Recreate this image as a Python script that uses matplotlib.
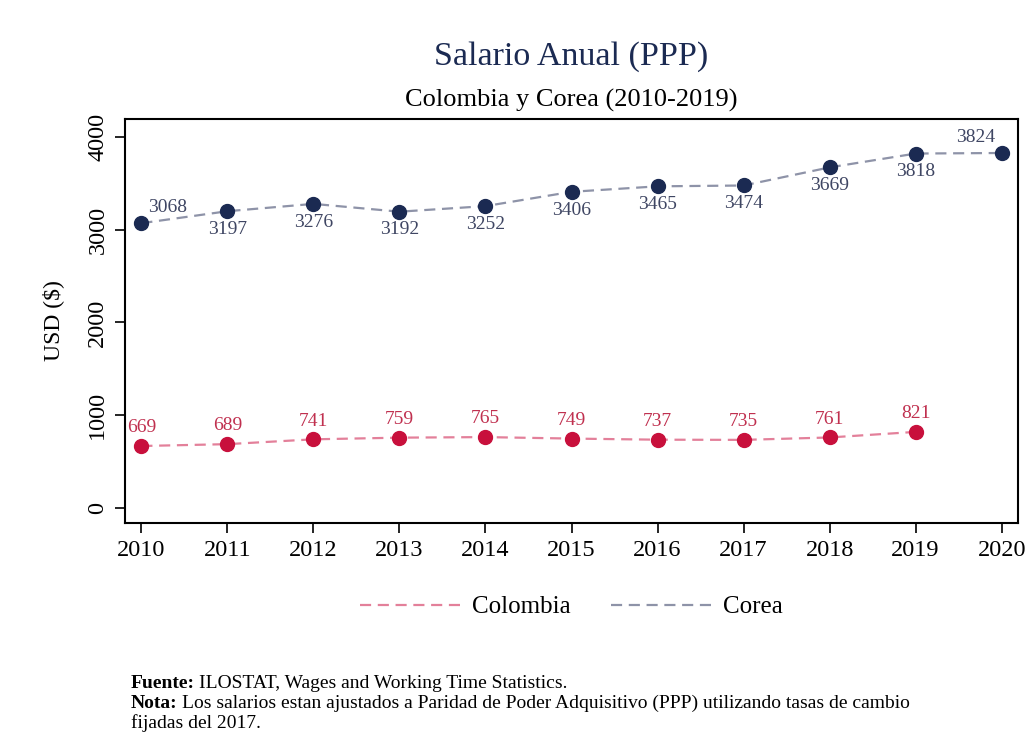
import matplotlib
matplotlib.use("Agg")
import matplotlib.pyplot as plt
from matplotlib.lines import Line2D

plt.rcParams['font.family'] = ['Liberation Serif', 'DejaVu Serif']

years_col = [2010, 2011, 2012, 2013, 2014, 2015, 2016, 2017, 2018, 2019]
colombia = [669, 689, 741, 759, 765, 749, 737, 735, 761, 821]
years_kor = [2010, 2011, 2012, 2013, 2014, 2015, 2016, 2017, 2018, 2019, 2020]
corea = [3068, 3197, 3276, 3192, 3252, 3406, 3465, 3474, 3669, 3818, 3824]
xticks = list(range(2010, 2021))
yticks = [0, 1000, 2000, 3000, 4000]

W, H = 1035, 756
fig = plt.figure(figsize=(W/100, H/100), dpi=100)
ax = fig.add_axes([125/W, 1-523/H, (1018-125)/W, (523-119)/H])

col_mk = '#c8103c'
col_ln = '#e3809a'
kor_mk = '#1b2a52'
kor_ln = '#8e93a8'

ax.plot(years_col, colombia, linestyle=(0, (5, 3)), color=col_ln, lw=1.6, zorder=2)
ax.plot(years_col, colombia, 'o', color=col_mk, ms=10, zorder=3)
ax.plot(years_kor, corea, linestyle=(0, (5, 3)), color=kor_ln, lw=1.6, zorder=2)
ax.plot(years_kor, corea, 'o', color=kor_mk, ms=10, zorder=3)

lab_fs = 14
for x, y in zip(years_col, colombia):
    ax.annotate(str(y), (x, y), xytext=(0, 7), textcoords='offset points',
                ha='center', va='bottom', fontsize=lab_fs, color='#c0304f')
n = len(corea)
for i, (x, y) in enumerate(zip(years_kor, corea)):
    if i == 0:
        ax.annotate(str(y), (x, y), xytext=(5, 5), textcoords='offset points',
                    ha='left', va='bottom', fontsize=lab_fs, color='#3f4663')
    elif i == n - 1:
        ax.annotate(str(y), (x, y), xytext=(-5, 5), textcoords='offset points',
                    ha='right', va='bottom', fontsize=lab_fs, color='#3f4663')
    else:
        ax.annotate(str(y), (x, y), xytext=(0, -7), textcoords='offset points',
                    ha='center', va='top', fontsize=lab_fs, color='#3f4663')

ax.set_xlim(2009.81, 2020.19)
ax.set_ylim(-160, 4190)
ax.set_xticks(xticks)
ax.set_xticklabels([str(t) for t in xticks], fontsize=17.5)
ax.set_yticks(yticks)
ax.set_yticklabels([str(t) for t in yticks], fontsize=17.5, rotation=90, va='center')
ax.tick_params(axis='both', direction='out', length=7, width=1.2, color='black', pad=5)
for s in ax.spines.values():
    s.set_linewidth(1.5)
    s.set_color('black')
ax.set_ylabel('USD ($)', fontsize=17, labelpad=17)

cx = (125 + 1018) / 2 / W
fig.text(cx, 1-57/H, 'Salario Anual (PPP)', ha='center', va='center', fontsize=24.5, color='#1b2a52')
fig.text(cx, 1-100/H, 'Colombia y Corea (2010-2019)', ha='center', va='center', fontsize=19, color='black')

handles = [Line2D([], [], linestyle=(0, (5, 3)), color=col_ln, lw=1.6),
           Line2D([], [], linestyle=(0, (5, 3)), color=kor_ln, lw=1.6)]
fig.legend(handles, ['Colombia', 'Corea'], loc='center', bbox_to_anchor=(cx, 1-607/H),
           ncol=2, frameon=False, fontsize=18, handlelength=4.0, columnspacing=1.6,
           handletextpad=0.5)

fn_fs = 14
renderer = fig.canvas.get_renderer()

def note(y_px, bold, rest):
    x0 = 131 / W
    y0 = 1 - y_px / H
    if bold:
        t = fig.text(x0, y0, bold, ha='left', va='baseline', fontsize=fn_fs, fontweight='bold')
        wpx = t.get_window_extent(renderer=renderer).width
        fig.text(x0 + (wpx + 4) / W, y0, rest, ha='left', va='baseline', fontsize=fn_fs)
    else:
        fig.text(x0, y0, rest, ha='left', va='baseline', fontsize=fn_fs)

note(688, 'Fuente:', 'ILOSTAT, Wages and Working Time Statistics.')
note(708, 'Nota:', 'Los salarios estan ajustados a Paridad de Poder Adquisitivo (PPP) utilizando tasas de cambio')
note(728, None, 'fijadas del 2017.')

fig.savefig('out.png', dpi=100, facecolor='white')
